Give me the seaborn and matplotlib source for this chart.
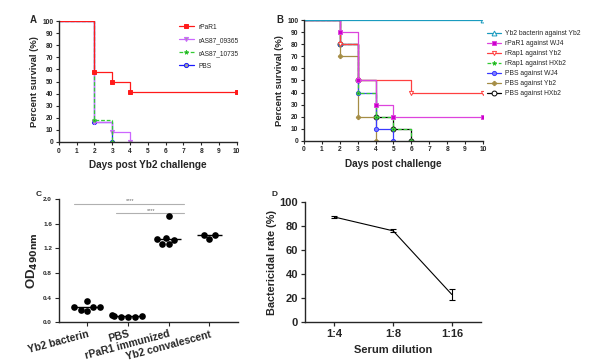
import matplotlib
matplotlib.use('Agg')
import matplotlib.pyplot as plt
import numpy as np
import pandas as pd
import seaborn as sns

## Panel A: survival after Yb2 challenge
A_RPAR1_DAYS = [0, 2, 3, 4, 10]
A_RPAR1_SURV = [100, 58.3, 50, 41.7, 41.7]
A_09365_DAYS = [0, 2, 3, 4]
A_09365_SURV = [100, 16.7, 8.3, 0]
A_10735_DAYS = [0, 2, 3]
A_10735_SURV = [100, 18.2, 0]
A_PBS_DAYS = [0, 2, 3]
A_PBS_SURV = [100, 16.7, 0]

## Panel B: survival against several strains
B_BACTERIN_YB2_DAYS = [0, 10]
B_BACTERIN_YB2_SURV = [100, 100]
B_RPAR1_WJ4_DAYS = [0, 2, 3, 4, 5, 10]
B_RPAR1_WJ4_SURV = [100, 90, 50, 30, 20, 20]
B_RRAP1_YB2_DAYS = [0, 2, 3, 6, 10]
B_RRAP1_YB2_SURV = [100, 80, 50, 40, 40]
B_RRAP1_HXB2_DAYS = [0, 2, 3, 4, 5, 6]
B_RRAP1_HXB2_SURV = [100, 80, 40, 20, 10, 0]
B_PBS_WJ4_DAYS = [0, 2, 3, 4, 5]
B_PBS_WJ4_SURV = [100, 80, 40, 10, 0]
B_PBS_YB2_DAYS = [0, 2, 3, 4]
B_PBS_YB2_SURV = [100, 70, 20, 0]
B_PBS_HXB2_DAYS = [0, 2, 3, 4, 5, 6]
B_PBS_HXB2_SURV = [100, 80, 50, 20, 10, 0]

## Panel C: antibody titres
C_GROUPS = ['Yb2 bacterin', 'PBS', 'rPaR1 immunized', 'Yb2 convalescent']
C_BACTERIN = [0.20, 0.25, 0.34, 0.25, 0.25, 0.18]
C_PBS = [0.09, 0.11, 0.10, 0.09, 0.08, 0.10]
C_RPAR1 = [1.27, 1.37, 1.72, 1.34, 1.35, 1.27]
C_CONVALESCENT = [1.35, 1.42, 1.42]

## Panel D: bactericidal rate
D_DILUTIONS = ['1:4', '1:8', '1:16']
D_MEAN = [87.5, 76.0, 23.0]
D_SD = [1.2, 1.3, 4.5]

sns.set_style('ticks')
plt.rcParams['font.family'] = ['Liberation Sans', 'DejaVu Sans']
plt.rcParams['axes.linewidth'] = 1.0

fig = plt.figure(figsize=(5.89, 3.64), dpi=100)
ax_a = fig.add_axes([0.100, 0.610, 0.302, 0.332])
ax_b = fig.add_axes([0.516, 0.613, 0.304, 0.332])
ax_c = fig.add_axes([0.100, 0.115, 0.304, 0.338])
ax_d = fig.add_axes([0.518, 0.115, 0.299, 0.330])


def step(ax, days, surv, label, color, marker, mfc=None, ls='-', ms=3.0):
    sns.lineplot(x=days, y=surv, ax=ax, color=color, label=label, errorbar=None,
                 drawstyle='steps-post', linewidth=0.9, linestyle=ls,
                 marker=marker, markersize=ms, markevery=list(range(1, len(days))),
                 markerfacecolor=mfc if mfc else color, markeredgecolor=color,
                 markeredgewidth=0.7)


def survival_axes(ax, xlabel):
    ax.set_xlim(0, 10)
    ax.set_ylim(0, 100)
    ax.set_xticks(range(0, 11))
    ax.set_yticks(range(0, 101, 10))
    ax.tick_params(labelsize=4.8, length=2.5, width=0.8, pad=1.5)
    for lab in ax.get_xticklabels() + ax.get_yticklabels():
        lab.set_fontweight('bold')
    ax.set_xlabel(xlabel, fontsize=7.2, fontweight='bold', labelpad=4)
    ax.set_ylabel('Percent survival (%)', fontsize=6.8, fontweight='bold', labelpad=2)
    sns.despine(ax=ax)


## A
step(ax_a, A_PBS_DAYS, A_PBS_SURV, 'PBS', '#1a1aff', 'o', mfc='#a0a0a0')
step(ax_a, A_09365_DAYS, A_09365_SURV, 'rAS87_09365', '#cc66ff', 'v', mfc='#a0a0a0')
step(ax_a, A_10735_DAYS, A_10735_SURV, 'rAS87_10735', '#33cc33', '*', mfc='#404040', ls=(0, (3, 1.5)))
step(ax_a, A_RPAR1_DAYS, A_RPAR1_SURV, 'rPaR1', '#ff1a1a', 's')
survival_axes(ax_a, 'Days post Yb2 challenge')
h, l = ax_a.get_legend_handles_labels()
order = [3, 1, 2, 0]
ax_a.legend([h[i] for i in order], [l[i] for i in order], loc='upper left',
            bbox_to_anchor=(0.66, 1.0), frameon=False, fontsize=4.8,
            handlelength=2.2, labelspacing=0.9, borderaxespad=0)

## B
step(ax_b, B_PBS_HXB2_DAYS, B_PBS_HXB2_SURV, 'PBS against HXb2', 'black', 'o', mfc='white', ms=3.5)
step(ax_b, B_PBS_YB2_DAYS, B_PBS_YB2_SURV, 'PBS against Yb2', '#a58d45', 'P')
step(ax_b, B_PBS_WJ4_DAYS, B_PBS_WJ4_SURV, 'PBS against WJ4', '#3a3aff', 'o', mfc='#8080ff')
step(ax_b, B_RRAP1_HXB2_DAYS, B_RRAP1_HXB2_SURV, 'rRap1 against HXb2', '#33cc33', '*', mfc='#303030', ls=(0, (3, 1.5)))
step(ax_b, B_RRAP1_YB2_DAYS, B_RRAP1_YB2_SURV, 'rRap1 against Yb2', '#ff4040', 'v', mfc='white')
step(ax_b, B_RPAR1_WJ4_DAYS, B_RPAR1_WJ4_SURV, 'rPaR1 against WJ4', '#dd44dd', 's', mfc='#cc00cc')
step(ax_b, B_BACTERIN_YB2_DAYS, B_BACTERIN_YB2_SURV, 'Yb2 bacterin against Yb2', '#1a9bbf', '^', mfc='white', ms=3.5)
survival_axes(ax_b, 'Days post challenge')
h, l = ax_b.get_legend_handles_labels()
h, l = h[::-1], l[::-1]
ax_b.legend(h, l, loc='upper left', bbox_to_anchor=(1.01, 0.94), frameon=False,
            fontsize=4.9, handlelength=2.0, handletextpad=0.6, labelspacing=0.45,
            borderaxespad=0)

## C
df_c = pd.DataFrame({
    'group': [C_GROUPS[0]] * len(C_BACTERIN) + [C_GROUPS[1]] * len(C_PBS)
             + [C_GROUPS[2]] * len(C_RPAR1) + [C_GROUPS[3]] * len(C_CONVALESCENT),
    'od': C_BACTERIN + C_PBS + C_RPAR1 + C_CONVALESCENT,
})
sns.swarmplot(data=df_c, x='group', y='od', order=C_GROUPS, color='black', size=4.8, ax=ax_c)
for i, vals in enumerate([C_BACTERIN, C_PBS, C_RPAR1, C_CONVALESCENT]):
    ax_c.hlines(np.median(vals), i - 0.3, i + 0.3, color='black', linewidth=1.0)
ax_c.plot([-0.34, 2.37], [1.92, 1.92], color='#b0b0b0', linewidth=0.8)
ax_c.plot([0.70, 2.37], [1.77, 1.77], color='#b0b0b0', linewidth=0.8)
ax_c.text(1.05, 1.93, '****', fontsize=4, ha='center', va='bottom', color='#666666')
ax_c.text(1.56, 1.78, '****', fontsize=4, ha='center', va='bottom', color='#666666')
ax_c.set_xlim(-0.7, 3.7)
ax_c.set_ylim(0, 2.0)
ax_c.set_yticks(np.arange(0, 2.01, 0.4))
ax_c.set_yticklabels([f'{v:.1f}' for v in np.arange(0, 2.01, 0.4)], fontsize=4.6, fontweight='bold')
ax_c.set_xticks(range(4))
ax_c.set_xticklabels(C_GROUPS, rotation=15, ha='right', rotation_mode='anchor',
                     fontsize=7.5, fontweight='bold')
ax_c.tick_params(length=3, width=0.8, pad=2)
ax_c.set_xlabel('')
ax_c.set_ylabel(r'OD$_{\mathbf{490nm}}$', fontsize=9.5, fontweight='bold', labelpad=2)
sns.despine(ax=ax_c)

## D
sns.lineplot(x=D_DILUTIONS, y=D_MEAN, ax=ax_d, color='black', linewidth=0.8, errorbar=None, sort=False)
ax_d.errorbar(D_DILUTIONS, D_MEAN, yerr=D_SD, fmt='none', ecolor='black', elinewidth=0.8, capsize=2.5, capthick=0.8)
ax_d.set_xlim(-0.5, 2.5)
ax_d.set_ylim(0, 100)
ax_d.set_yticks(range(0, 101, 20))
ax_d.tick_params(labelsize=8, length=3, width=0.9, pad=2)
for lab in ax_d.get_xticklabels() + ax_d.get_yticklabels():
    lab.set_fontweight('bold')
ax_d.set_xlabel('Serum dilution', fontsize=8, fontweight='bold', labelpad=4)
ax_d.set_ylabel('Bactericidal rate (%)', fontsize=7.8, fontweight='bold', labelpad=2)
sns.despine(ax=ax_d)

## Panel letters
fig.text(30 / 589, 1 - 20 / 364, 'A', fontsize=7, fontweight='bold', ha='left', va='center')
fig.text(276 / 589, 1 - 20 / 364, 'B', fontsize=7, fontweight='bold', ha='left', va='center')
fig.text(36 / 589, 1 - 194 / 364, 'C', fontsize=6, fontweight='bold', ha='left', va='center')
fig.text(272 / 589, 1 - 195 / 364, 'D', fontsize=6, fontweight='bold', ha='left', va='center')

fig.savefig('out.png', dpi=100)
